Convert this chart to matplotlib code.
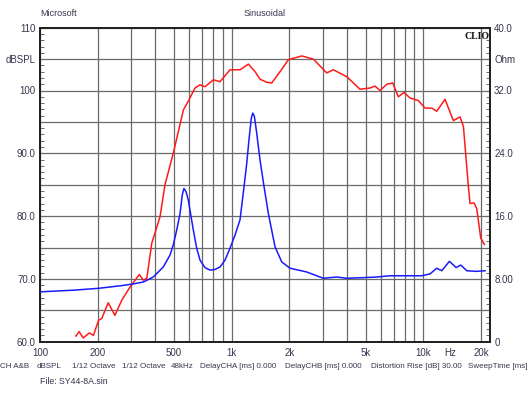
import numpy as np
import matplotlib
matplotlib.use("Agg")
import matplotlib.pyplot as plt
from matplotlib.ticker import FixedLocator, NullFormatter

plt.rcParams["font.family"] = ["Liberation Sans", "DejaVu Sans"]

# SPL response (red, left axis, dBSPL)
spl_freq = [154, 160, 168, 181, 190, 202, 210, 227, 246, 267, 295, 330, 346, 361,
            383, 398, 423, 449, 496, 560, 594, 644, 684, 726, 803, 870, 981, 1106,
            1223, 1325, 1407, 1525, 1619, 1789, 1976, 2322, 2670, 3136, 3395, 3988,
            4678, 5277, 5603, 5950, 6449, 6932, 7413, 7937, 8533, 9428, 10220, 11080,
            11760, 12990, 14360, 15560, 16200, 17200, 17550, 18410, 19020, 19950, 20840]
spl_db = [60.9, 61.6, 60.6, 61.4, 61.0, 63.4, 63.7, 66.2, 64.2, 66.6, 68.7, 70.7, 69.8, 70.1,
          75.7, 77.3, 79.9, 85.0, 90.0, 96.9, 98.3, 100.4, 100.9, 100.6, 101.7, 101.4, 103.3, 103.3,
          104.2, 103.0, 101.8, 101.3, 101.2, 103.0, 104.9, 105.5, 105.0, 102.8, 103.3, 102.2,
          100.2, 100.4, 100.7, 100.0, 101.0, 101.2, 99.0, 99.7, 98.8, 98.4, 97.2, 97.2,
          96.7, 98.6, 95.2, 95.8, 94.3, 84.7, 82.0, 82.1, 81.2, 76.5, 75.5]

# impedance (blue, right axis, Ohm)
imp_freq = [100, 149, 202, 262, 307, 346, 390, 440, 477, 496, 517, 538, 553, 564, 578,
            594, 612, 631, 657, 684, 726, 772, 819, 870, 924, 981, 1042, 1106, 1161,
            1199, 1237, 1267, 1289, 1314, 1352, 1407, 1476, 1555, 1685, 1826, 2017,
            2466, 3010, 3537, 3988, 4869, 5720, 6708, 7873, 9822, 10850, 11760, 12490,
            13690, 14840, 15700, 16870, 19020, 21010]
imp_ohm = [6.35, 6.56, 6.8, 7.12, 7.36, 7.6, 8.24, 9.52, 11.04, 12.32, 14.24, 16.32, 18.72, 19.52, 19.12,
           18.08, 16.16, 14.24, 11.92, 10.4, 9.44, 9.12, 9.2, 9.52, 10.4, 11.92, 13.6, 15.52, 19.76,
           22.72, 26.16, 28.48, 29.12, 28.72, 26.56, 23.12, 19.76, 16.32, 12.08, 10.16, 9.36,
           8.88, 8.08, 8.24, 8.08, 8.16, 8.24, 8.4, 8.4, 8.4, 8.64, 9.36, 9.04,
           10.24, 9.44, 9.76, 9.04, 8.96, 9.04]

x_major = [100, 200, 500, 1000, 2000, 5000, 10000, 20000]
x_labels = ["100", "200", "500", "1k", "2k", "5k", "10k", "20k"]
x_minor = [300, 400, 600, 700, 800, 900, 3000, 4000, 6000, 7000, 8000, 9000]
left_ticks = list(range(60, 111, 5))
left_labels = ["60.0", "", "70.0", "", "80.0", "", "90.0", "", "100", "dBSPL", "110"]
right_ticks = list(range(0, 41, 4))
right_labels = ["0", "", "8.00", "", "16.0", "", "24.0", "", "32.0", "Ohm", "40.0"]

# bottom info line of the measurement
info_items = ["CH A&B", "dBSPL", "1/12 Octave", "1/12 Octave", "48kHz",
              "DelayCHA [ms] 0.000", "DelayCHB [ms] 0.000",
              "Distortion Rise [dB] 30.00", "SweepTime [ms] 1000"]
info_x = [0, 37, 72, 122, 171, 200, 285, 371, 468]

txt = "#35354f"
grid_c = "#6a6a6a"

fig = plt.figure(figsize=(5.3, 3.98), dpi=100)
ax = fig.add_axes([40 / 530, 1 - 341.7 / 398, 450 / 530, 314 / 398])
ax.set_xscale("log")
ax.set_xlim(100, 22300)
ax.set_ylim(60, 110)

ax.xaxis.set_major_locator(FixedLocator(x_major))
ax.set_xticklabels(x_labels)
ax.xaxis.set_minor_locator(FixedLocator(x_minor))
ax.xaxis.set_minor_formatter(NullFormatter())
ax.tick_params(axis="x", which="both", length=0, pad=4.5, labelsize=7, labelcolor=txt)
ax.text(13800, -0.021, "Hz", transform=ax.get_xaxis_transform(), ha="center", va="top",
        fontsize=7, color=txt)

ax.set_yticks(left_ticks)
ax.set_yticklabels(left_labels)
ax.yaxis.set_minor_locator(FixedLocator(np.arange(60, 110.5, 1)))
ax.tick_params(axis="y", which="major", length=0, pad=3, labelsize=7, labelcolor=txt)
ax.tick_params(axis="y", which="minor", direction="in", length=3, width=0.6, color="#555555")

ax.grid(True, which="both", axis="x", color=grid_c, lw=0.9)
ax.grid(True, which="major", axis="y", color=grid_c, lw=0.9)
for s in ax.spines.values():
    s.set_linewidth(1.4)
    s.set_color("#222222")

ax.plot(spl_freq, spl_db, color="#ff1a1a", lw=1.1, zorder=3)

ax2 = ax.twinx()
ax2.set_ylim(0, 40)
ax2.set_yticks(right_ticks)
ax2.set_yticklabels(right_labels)
ax2.yaxis.set_minor_locator(FixedLocator(np.arange(0, 40.1, 0.8)))
ax2.tick_params(axis="y", which="major", length=0, pad=3, labelsize=7, labelcolor=txt)
ax2.tick_params(axis="y", which="minor", direction="in", length=3, width=0.6, color="#555555")
for s in ax2.spines.values():
    s.set_linewidth(1.4)
    s.set_color("#222222")
ax2.plot(imp_freq, imp_ohm, color="#1a1aff", lw=1.1, zorder=3)

ax.text(0.999, 0.985, "CLIO", transform=ax.transAxes, ha="right", va="top",
        fontsize=7, fontweight="bold", family="Liberation Serif", color="#111111")

fig.text(40 / 530, 1 - 14 / 398, "Microsoft", fontsize=6.5, color=txt, va="center")
fig.text(265 / 530, 1 - 14 / 398, "Sinusoidal", fontsize=6.5, color=txt, va="center", ha="center")
for label, xp in zip(info_items, info_x):
    fig.text(xp / 530, 1 - 366 / 398, label, fontsize=5.8, color=txt, va="center")
fig.text(40 / 530, 1 - 381 / 398, "File: SY44-8A.sin", fontsize=6.3, color=txt, va="center")

fig.savefig("out.png", dpi=100)
